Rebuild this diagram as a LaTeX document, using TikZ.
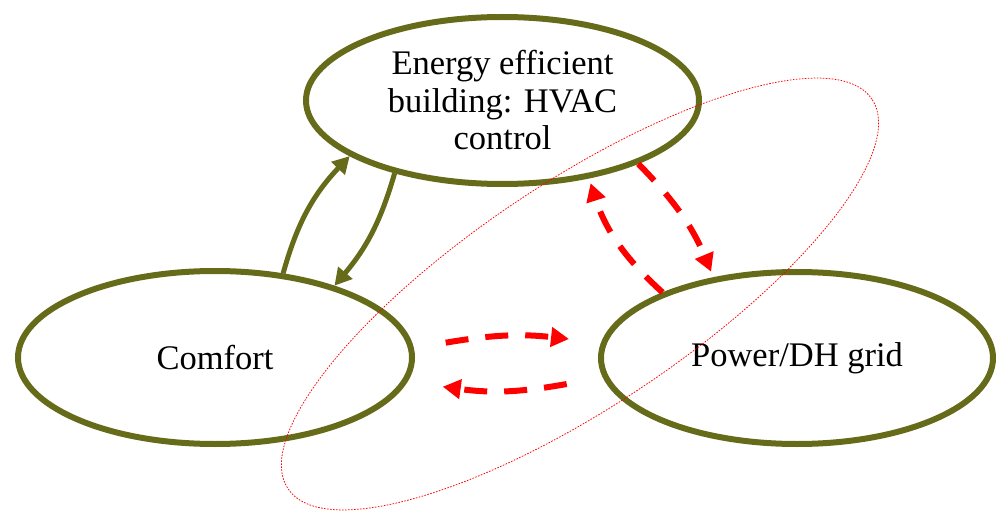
\documentclass[tikz,border=0pt]{standalone}
\usepackage{fontspec}
\setmainfont{Liberation Serif}
\usetikzlibrary{arrows.meta,shapes.geometric}
\definecolor{olivebox}{RGB}{102,107,26}
\definecolor{redline}{RGB}{255,0,0}
\begin{document}
\begin{tikzpicture}[x=1pt,y=1pt,
  oval/.style={ellipse, draw=olivebox, line width=6pt, inner sep=0pt, align=center,
    font=\fontsize{34.5}{37.5}\selectfont},
  olivearrow/.style={draw=olivebox, line width=5pt,
    -{Triangle[length=17pt,width=18pt]}},
  redarrow/.style={draw=redline, line width=6pt, dash pattern=on 23pt off 17pt,
    -{Triangle[length=18pt,width=19pt]}},
  reddot/.style={draw=redline, line width=0.75pt, dash pattern=on 1.6pt off 1.4pt}]
\useasboundingbox (0,0) rectangle (996,515);
\node[oval, minimum width=393pt, minimum height=167pt] (eeb) at (502.5,414.5)
  {Energy efficient\\building: HVAC\\control};
\node[oval, minimum width=394pt, minimum height=173pt] (comfort) at (215,157.5) {Comfort};
\node[oval, minimum width=392pt, minimum height=172pt] (power) at (797,157) {Power/DH grid};
% olive connectors
\draw[olivearrow] (comfort.51) to[bend left=14] (eeb.200);
\draw[olivearrow] (eeb.214) to[bend left=12] (comfort.31);
% red vertical connectors
\draw[redarrow, shorten >=6pt] (eeb.335) to[bend left=11] (power.136);
\draw[redarrow, shorten >=5pt] (power.154) to[bend left=15] (eeb.318);
% red horizontal connectors
\coordinate (rA) at (445.7,172.3);
\coordinate (rB) at (569,176);
\coordinate (rC) at (566.7,131);
\coordinate (rD) at (442.7,128.3);
\draw[redarrow] (rA) to[bend left=8] (rB);
\draw[redarrow] (rC) to[bend left=9] (rD);
% red dotted ellipse
\draw[reddot, rotate around={33.7:(580,221)}] (580,221) ellipse [x radius=351pt, y radius=112pt];
\end{tikzpicture}
\end{document}
